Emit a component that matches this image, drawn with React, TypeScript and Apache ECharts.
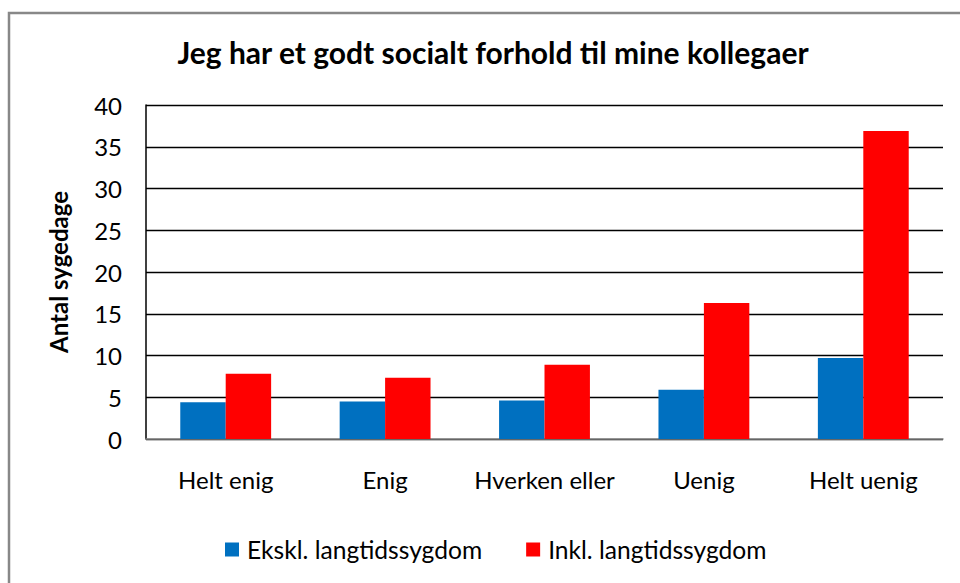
import React, { useEffect, useRef } from "react";
import * as echarts from "echarts";

const categories = ["Helt enig", "Enig", "Hverken eller", "Uenig", "Helt uenig"];
const seriesNames = ["Ekskl. langtidssygdom", "Inkl. langtidssygdom"];
const ekskl = [4.4, 4.5, 4.6, 5.9, 9.7];
const inkl = [7.8, 7.35, 8.9, 16.3, 36.9];
const titleText = "Jeg har et godt socialt forhold til mine kollegaer";
const yAxisName = "Antal sygedage";

const FONT = "Lato";

export default function App() {
  const ref = useRef<HTMLDivElement>(null);
  useEffect(() => {
    if (!ref.current) return;
    const chart = echarts.init(ref.current, undefined, { renderer: "svg" });
    chart.setOption({
      animation: false,
      backgroundColor: "#fff",
      title: {
        text: titleText,
        left: 488,
        top: 32,
        textAlign: "center",
        textStyle: { fontFamily: FONT, fontSize: 30, fontWeight: "bold", color: "#000" },
      },
      graphic: [
        {
          type: "rect",
          shape: { x: 9, y: 13, width: 1100, height: 1100 },
          style: { fill: "none", stroke: "#888", lineWidth: 2.5 },
          silent: true,
          z: -1,
        },
      ],
      legend: {
        left: 220,
        top: 532,
        itemWidth: 14,
        itemHeight: 14,
        itemGap: 44,
        icon: "rect",
        textStyle: { fontFamily: FONT, fontSize: 24.6, color: "#000", padding: [0, 0, 0, 3] },
        data: seriesNames,
      },
      grid: { left: 146, right: 17, top: 105, bottom: 144, containLabel: false },
      xAxis: {
        type: "category",
        data: categories,
        axisLine: { lineStyle: { color: "#888", width: 1.5 } },
        axisTick: { show: false },
        axisLabel: { fontFamily: FONT, fontSize: 24, color: "#000", margin: 28, interval: 0 },
      },
      yAxis: {
        type: "value",
        min: 0,
        max: 40,
        interval: 5,
        name: yAxisName,
        nameLocation: "middle",
        nameGap: 76,
        nameTextStyle: { fontFamily: FONT, fontSize: 24, fontWeight: "bold", color: "#000" },
        axisLine: { show: true, lineStyle: { color: "#000", width: 1.5 } },
        axisTick: { show: false },
        axisLabel: { fontFamily: FONT, fontSize: 24, color: "#000", margin: 24 },
        splitLine: { lineStyle: { color: "#000", width: 1.4 } },
      },
      series: [
        {
          name: seriesNames[0],
          type: "bar",
          data: ekskl,
          barGap: "0%",
          barCategoryGap: "43%",
          itemStyle: { color: "#0070C0" },
        },
        {
          name: seriesNames[1],
          type: "bar",
          data: inkl,
          barGap: "0%",
          barCategoryGap: "43%",
          itemStyle: { color: "#FF0000" },
        },
      ],
    });
    return () => chart.dispose();
  }, []);
  return (
    <div
      ref={ref}
      style={{ position: "absolute", left: 0, top: 0, width: 960, height: 583 }}
    />
  );
}
